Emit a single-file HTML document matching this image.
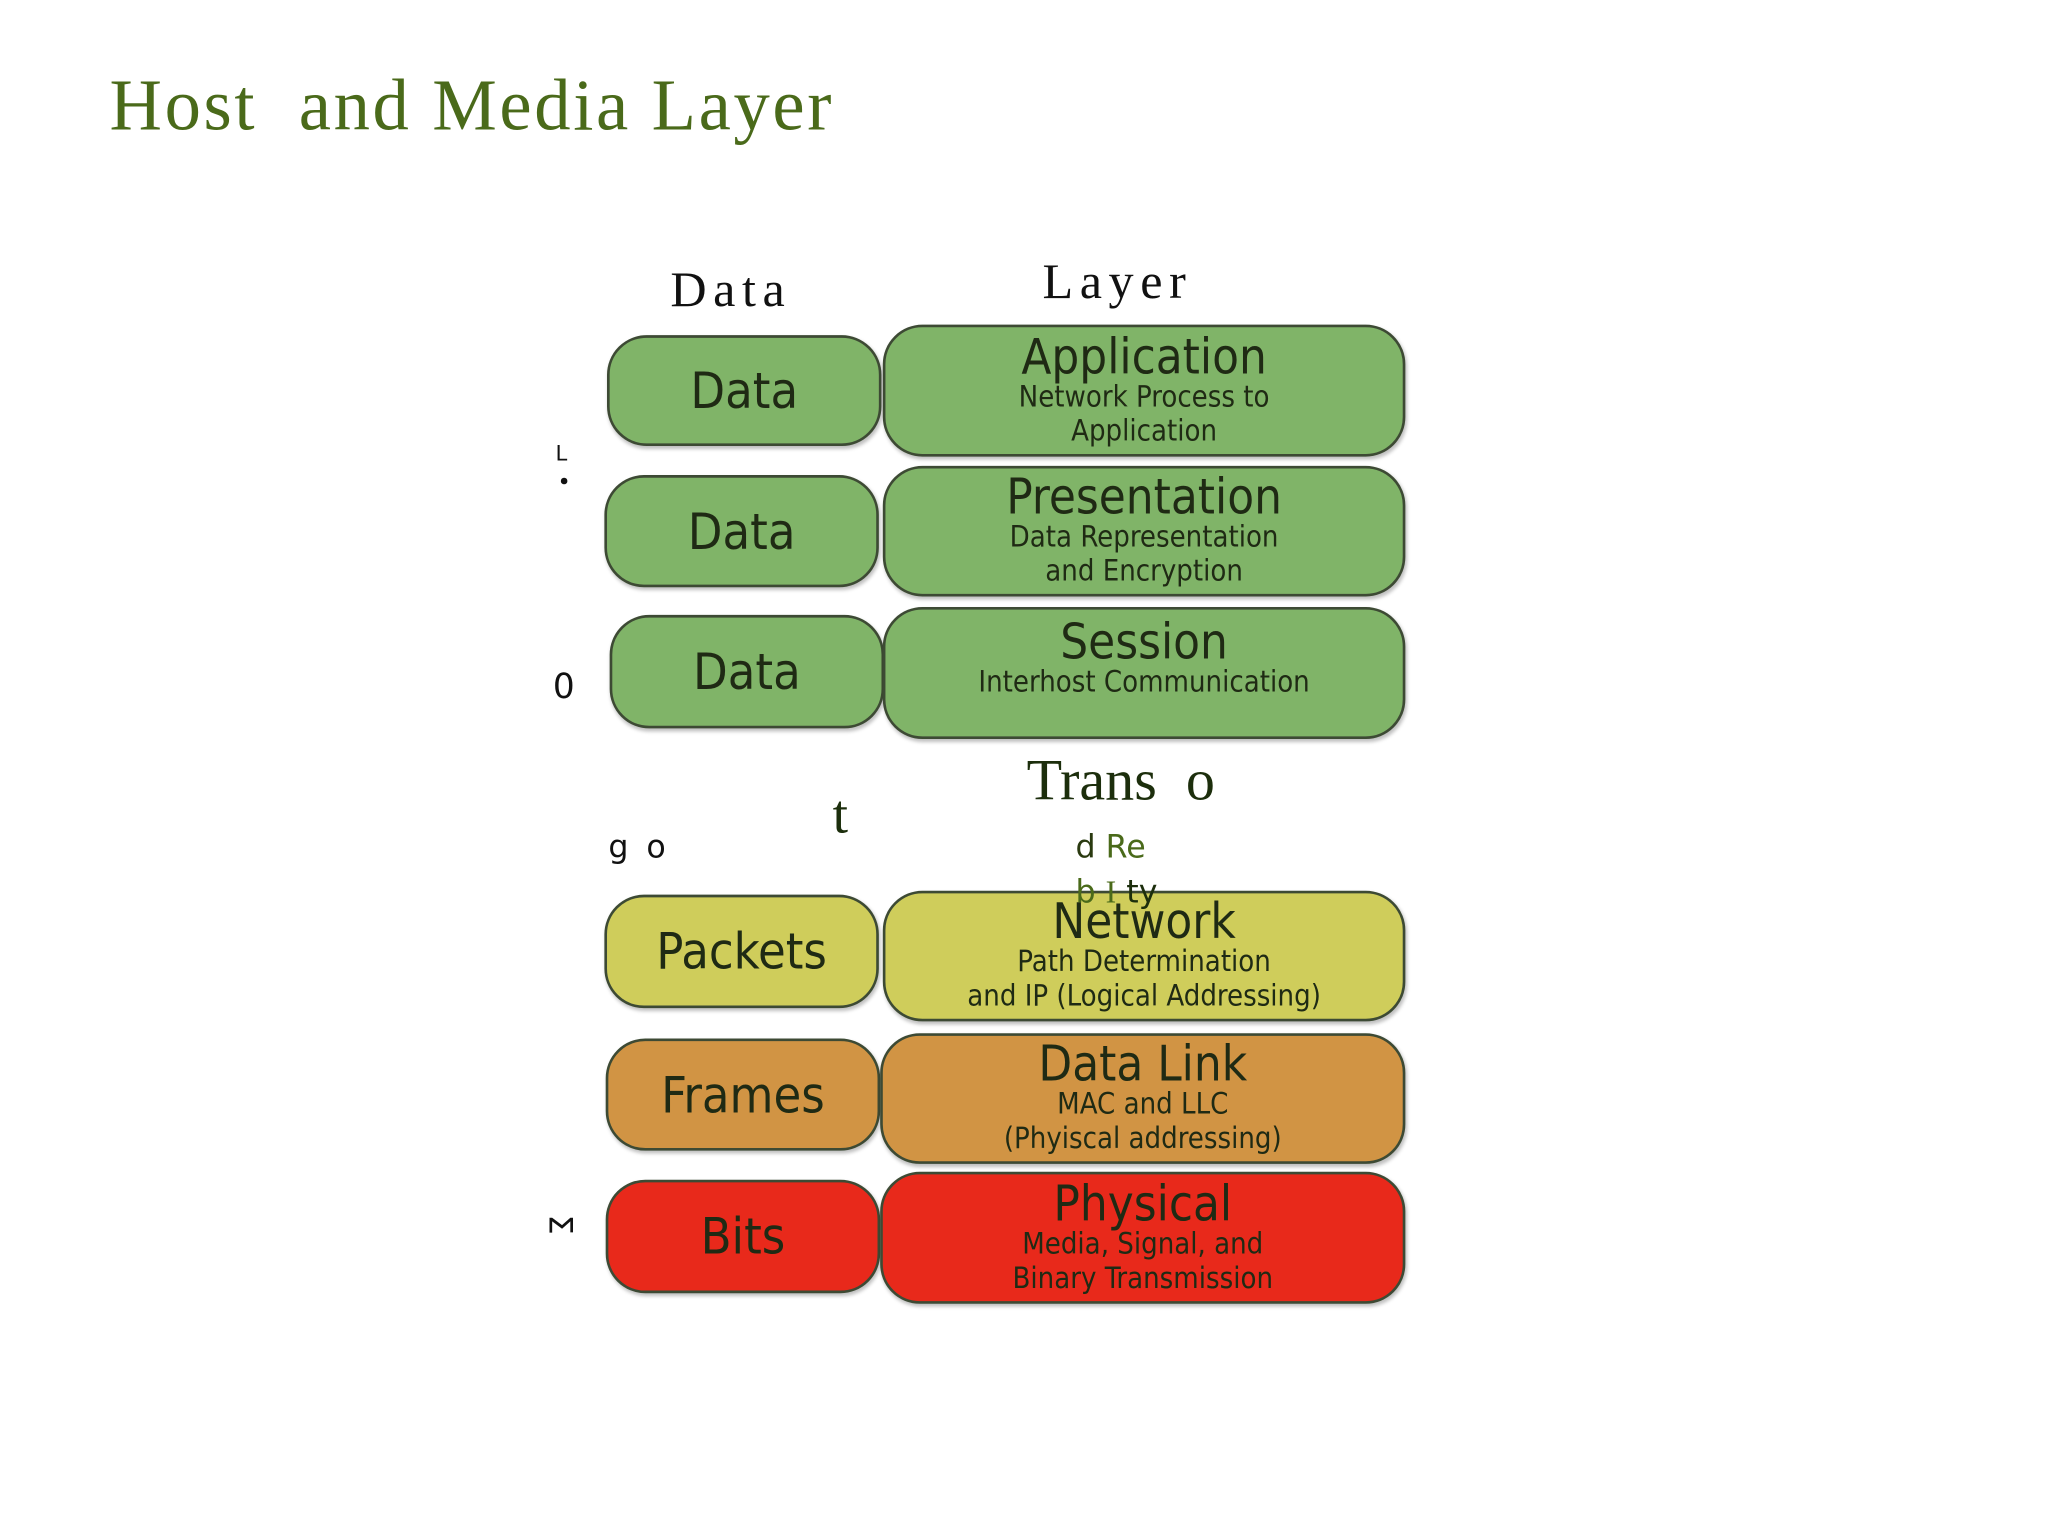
<!DOCTYPE html>
<html><head><meta charset="utf-8"><style>
html,body{margin:0;padding:0;background:#fff;}
body{width:2048px;height:1536px;overflow:hidden;position:relative;}
#w{position:absolute;left:0;top:0;width:1552px;height:1164px;transform-origin:0 0;transform:scale(1.31959);}
.a{position:absolute;white-space:nowrap;}
.b{position:absolute;box-sizing:border-box;border:2px solid #3d4a34;border-radius:30px;display:flex;flex-direction:column;align-items:center;justify-content:center;font-family:"DejaVu Sans Condensed","DejaVu Sans","Liberation Sans",sans-serif;color:#1f2a14;text-align:center;line-height:1;box-shadow:1px 2px 3px rgba(0,0,0,0.25);}
.g{background:#80b468;}
.y{background:#cfcd5b;}
.o{background:#d19444;}
.r{background:#e8291b;}
.big{font-size:38px;}
.t{font-size:37px;}
.s{font-size:22px;line-height:26px;}
.serif{font-family:"Liberation Serif",serif;}
.sans{font-family:"DejaVu Sans","Liberation Sans",sans-serif;}
</style></head><body><div id="w">
<div class="a serif" style="left:83px;top:48px;font-size:55px;color:#4a6a1a;letter-spacing:2px;">Host&nbsp; and Media Layer</div>
<div class="a serif" style="left:508px;top:198px;font-size:38px;color:#111;letter-spacing:5px;">Data</div>
<div class="a serif" style="left:790px;top:192px;font-size:38px;color:#111;letter-spacing:5px;">Layer</div>

<div class="b g big" style="left:460px;top:254px;width:208px;height:84px;">Data</div>
<div class="b g" style="left:669px;top:246px;width:396px;height:100px;"><div class="t">Application</div><div class="s">Network Process to<br>Application</div></div>

<div class="b g big" style="left:458px;top:360px;width:208px;height:85px;">Data</div>
<div class="b g" style="left:669px;top:353px;width:396px;height:99px;"><div class="t">Presentation</div><div class="s">Data Representation<br>and Encryption</div></div>

<div class="b g big" style="left:462px;top:466px;width:208px;height:86px;">Data</div>
<div class="b g" style="left:669px;top:460px;width:396px;height:100px;justify-content:flex-start;padding-top:6px;"><div class="t">Session</div><div class="s">Interhost Communication</div></div>

<div class="b y big" style="left:458px;top:678px;width:208px;height:86px;">Packets</div>
<div class="b y" style="left:669px;top:675px;width:396px;height:99px;"><div class="t">Network</div><div class="s">Path Determination<br>and IP (Logical Addressing)</div></div>

<div class="b o big" style="left:459px;top:787px;width:208px;height:85px;">Frames</div>
<div class="b o" style="left:667px;top:783px;width:398px;height:99px;"><div class="t">Data Link</div><div class="s">MAC and LLC<br>(Phyiscal addressing)</div></div>

<div class="b r big" style="left:459px;top:894px;width:208px;height:86px;">Bits</div>
<div class="b r" style="left:667px;top:888px;width:398px;height:100px;"><div class="t">Physical</div><div class="s">Media, Signal, and<br>Binary Transmission</div></div>

<div class="a sans" style="left:421px;top:334px;font-size:16px;color:#111;">L</div>
<div class="a" style="left:425px;top:362px;width:5px;height:5px;border-radius:50%;background:#111;"></div>
<div class="a sans" style="left:419px;top:506px;font-size:26px;color:#111;">0</div>
<div class="a serif" style="left:778px;top:566px;font-size:44px;color:#1c2e0c;">Trans&nbsp; o</div>
<div class="a serif" style="left:631px;top:594px;font-size:42px;color:#1c2e0c;">t</div>
<div class="a sans" style="left:461px;top:628px;font-size:24px;color:#111;letter-spacing:3px;">g o</div>
<div class="a sans" style="left:815px;top:628px;font-size:24px;color:#4a6a1a;"><span style="color:#2a3a10">d</span> Re</div>
<div class="a sans" style="left:815px;top:662px;font-size:24px;color:#4a6a1a;">b <span class="serif">I</span> <span style="color:#1c2e0c">ty</span></div>
<div class="a sans" style="left:417px;top:914px;font-size:24px;color:#111;transform:rotate(90deg);">Σ</div>
</div></body></html>
